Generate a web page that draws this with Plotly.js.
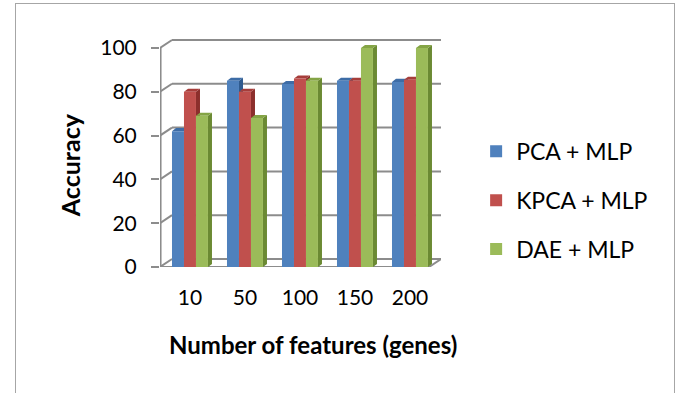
<!DOCTYPE html>
<html>
<head>
<meta charset="utf-8">
<script src="https://cdn.plot.ly/plotly-3.0.1.min.js"></script>
<style>
html,body{margin:0;padding:0;background:#fff;}
#frame{position:absolute;left:15px;top:3px;width:660px;height:420px;border:1px solid #a6a6a6;box-sizing:border-box;}
#chart{position:absolute;left:0;top:0;width:680px;height:393px;}
</style>
</head>
<body>
<div id="frame"></div>
<div id="chart"></div>
<script>
// ---- data ----
const categories = ["10", "50", "100", "150", "200"];
const seriesNames = ["PCA + MLP", "KPCA + MLP", "DAE + MLP"];
const pcaMlp  = [62, 85, 83.5, 85, 84.5];
const kpcaMlp = [80, 80, 86, 85, 85.5];
const daeMlp  = [69, 68, 85, 100, 100];
const yTicks  = [0, 20, 40, 60, 80, 100];

// ---- styling ----
const series = [pcaMlp, kpcaMlp, daeMlp];
const front = ["#4F81BD", "#C0504D", "#9BBB59"];
const side  = ["#2F5B8F", "#8C2F2C", "#6B8A33"];
const top_  = ["#3D6CA6", "#A63D3A", "#84A445"];
const FONT = "Lato, 'Liberation Sans', sans-serif";
const xIdx = categories.map((c, i) => i);
const w = 0.218;                 // bar width (category units)
const offs = [-0.327, -0.109, 0.109];
const dx = 0.073, dy = 1.4;      // bar depth
const wdx = 0.218, wdy = 3.65;   // wall depth
const xMin = -0.545, xMax = 4.564;

const traces = series.map((vals, k) => ({
  type: "bar",
  x: xIdx,
  y: vals,
  name: seriesNames[k],
  legendgroup: "g" + k,
  width: w,
  offset: offs[k],
  marker: { color: front[k], line: { width: 0 } },
  hoverinfo: "y+name"
}));

const shapes = [];
const gridCol = "#8c8c8c";
// back-wall gridlines + connectors to front axis
yTicks.forEach(t => {
  shapes.push({ type: "line", layer: "between", xref: "x", yref: "y",
    x0: xMin + wdx, x1: xMax, y0: t + wdy, y1: t + wdy, line: { color: gridCol, width: 2 } });
  shapes.push({ type: "line", layer: "between", xref: "x", yref: "y",
    x0: xMin, x1: xMin + wdx, y0: t, y1: t + wdy, line: { color: gridCol, width: 2 } });
});
// front vertical axis line
shapes.push({ type: "line", layer: "between", xref: "x", yref: "y",
  x0: xMin + 0.01, x1: xMin + 0.01, y0: 0, y1: 100, line: { color: gridCol, width: 2 } });
// floor front edge and right connector
shapes.push({ type: "line", layer: "between", xref: "x", yref: "y",
  x0: xMin, x1: xMax - wdx, y0: 0, y1: 0, line: { color: gridCol, width: 2 } });
shapes.push({ type: "line", layer: "between", xref: "x", yref: "y",
  x0: xMax - wdx, x1: xMax, y0: 0, y1: wdy, line: { color: gridCol, width: 2 } });

// 3D faces of bars
series.forEach((vals, k) => {
  vals.forEach((v, i) => {
    const xl = i + offs[k], xr = xl + w;
    shapes.push({ type: "path", layer: "between", xref: "x", yref: "y",
      path: `M${xr},0 L${xr + dx},${dy} L${xr + dx},${v + dy} L${xr},${v} Z`,
      fillcolor: side[k], line: { width: 0 } });
    shapes.push({ type: "path", layer: "between", xref: "x", yref: "y",
      path: `M${xl},${v} L${xr},${v} L${xr + dx},${v + dy} L${xl + dx},${v + dy} Z`,
      fillcolor: top_[k], line: { width: 0 } });
  });
});

const layout = {
  width: 680, height: 393,
  paper_bgcolor: "rgba(0,0,0,0)",
  plot_bgcolor: "rgba(0,0,0,0)",
  margin: { l: 160, r: 239, t: 37, b: 126 },
  font: { family: FONT, size: 21, color: "#000" },
  barmode: "overlay",
  showlegend: true,
  legend: {
    x: 1.125, xanchor: "left", y: 0.29, yanchor: "middle",
    font: { family: FONT, size: 23, color: "#000" },
    traceorder: "grouped", tracegroupgap: 16,
    bgcolor: "rgba(0,0,0,0)"
  },
  xaxis: {
    range: [xMin, xMax],
    tickmode: "array", tickvals: xIdx, ticktext: categories,
    showgrid: false, zeroline: false, showline: false,
    ticks: "", ticklabelstandoff: 16,
    tickfont: { family: FONT, size: 21, color: "#000" },
    fixedrange: true
  },
  yaxis: {
    range: [0, 105],
    tickmode: "array", tickvals: yTicks,
    showgrid: false, zeroline: false, showline: false,
    ticks: "outside", ticklen: 8, tickwidth: 2, tickcolor: gridCol,
    ticklabelstandoff: 10,
    tickfont: { family: FONT, size: 21, color: "#000" },
    fixedrange: true
  },
  shapes: shapes,
  annotations: [
    { text: "<b>Accuracy</b>", xref: "paper", yref: "paper",
      x: -0.320, y: 0.443, xanchor: "center", yanchor: "middle",
      textangle: -90, showarrow: false, font: { family: FONT, size: 25, color: "#000" } },
    { text: "<b>Number of features (genes)</b>", xref: "paper", yref: "paper",
      x: 0.544, y: -0.339, xanchor: "center", yanchor: "middle",
      showarrow: false, font: { family: FONT, size: 24, color: "#000" } }
  ]
};

Plotly.newPlot("chart", traces, layout, { displayModeBar: false, staticPlot: true });
</script>
</body>
</html>
